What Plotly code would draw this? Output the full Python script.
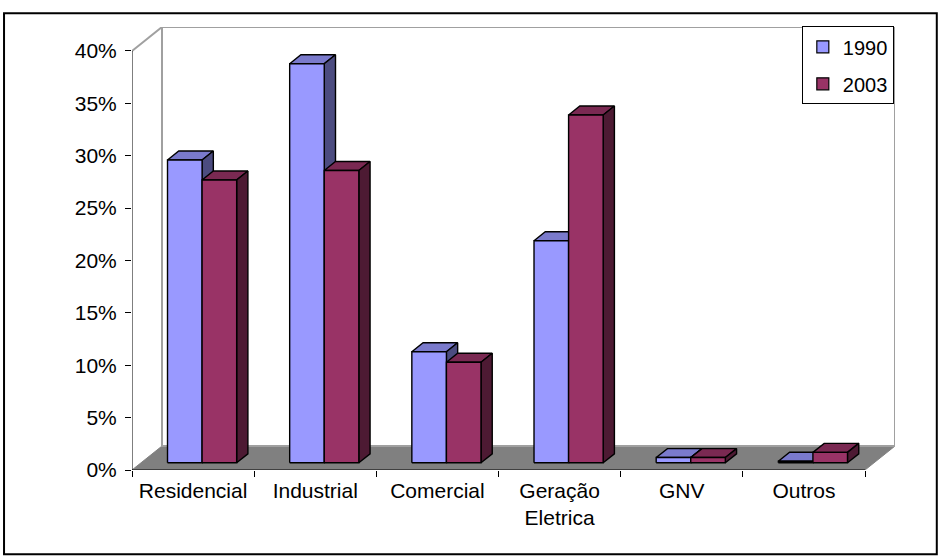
import plotly.graph_objects as go

# Share of natural gas consumption by sector
categories = ["Residencial", "Industrial", "Comercial", "Geração<br>Eletrica", "GNV", "Outros"]
series_names = ["1990", "2003"]
values_1990 = [28.9, 38.1, 10.6, 21.2, 0.5, 0.15]
values_2003 = [27.0, 27.9, 9.6, 33.2, 0.5, 1.0]
y_ticks = [0, 5, 10, 15, 20, 25, 30, 35, 40]
y_tick_labels = [f"{v}%" for v in y_ticks]

# colours: front face, top face, side face
colors_1990 = ("#9999FF", "#7A7ACC", "#4C4C80")
colors_2003 = ("#993366", "#7A2952", "#4D1A33")

W, H = 939, 557
ML, MR, MT, MB = 132, 43.8, 26.7, 86.5

n = len(categories)
Y_MAX = 40
DEPTH_X = 0.2455          # floor depth, in category units
DEPTH_Y = 2.287           # floor depth, in percent units
BAR_W = 0.283             # bar width, in category units
FRONT = 0.30              # bar front plane, fraction of floor depth
BACK = 0.675              # bar back plane, fraction of floor depth

fig = go.Figure()


def face_trace(polys, color):
    xs, ys = [], []
    for poly in polys:
        for (px, py) in poly:
            xs.append(px)
            ys.append(py)
        xs.append(poly[0][0])
        ys.append(poly[0][1])
        xs.append(None)
        ys.append(None)
    return go.Scatter(x=xs, y=ys, mode="lines", fill="toself", fillcolor=color,
                      line=dict(color="black", width=1.4), hoverinfo="skip",
                      showlegend=False)


def add_series(values, offset, colors):
    fx0, fy0 = FRONT * DEPTH_X, FRONT * DEPTH_Y
    bx, by = (BACK - FRONT) * DEPTH_X, (BACK - FRONT) * DEPTH_Y
    tops, sides, fronts = [], [], []
    for i, v in enumerate(values):
        x0 = i + 0.5 + offset * BAR_W - BAR_W + fx0
        x1 = x0 + BAR_W
        y0 = fy0
        y1 = fy0 + v
        fronts.append([(x0, y0), (x1, y0), (x1, y1), (x0, y1)])
        tops.append([(x0, y1), (x1, y1), (x1 + bx, y1 + by), (x0 + bx, y1 + by)])
        sides.append([(x1, y0), (x1 + bx, y0 + by), (x1 + bx, y1 + by), (x1, y1)])
    fig.add_trace(face_trace(tops, colors[1]))
    fig.add_trace(face_trace(sides, colors[2]))
    fig.add_trace(face_trace(fronts, colors[0]))


add_series(values_1990, 0, colors_1990)
add_series(values_2003, 1, colors_2003)

# legend entries
for name, cols, grp in [(series_names[0], colors_1990, "a"), (series_names[1], colors_2003, "b")]:
    fig.add_trace(go.Bar(x=[None], y=[None], name=name, legendgroup=grp,
                         marker=dict(color=cols[0], line=dict(color="black", width=1.2))))

shapes = []
# floor
shapes.append(dict(type="path", xref="x", yref="y", layer="below",
                   path=f"M0,0 L{n},0 L{n + DEPTH_X},{DEPTH_Y} L{DEPTH_X},{DEPTH_Y} Z",
                   fillcolor="#808080", line=dict(color="#808080", width=1)))
# back wall
shapes.append(dict(type="rect", xref="x", yref="y", layer="below",
                   x0=DEPTH_X, x1=n + DEPTH_X, y0=DEPTH_Y, y1=Y_MAX + DEPTH_Y,
                   fillcolor="white", line=dict(color="#A0A0A0", width=2)))
# side wall top edge
shapes.append(dict(type="line", xref="x", yref="y", layer="below",
                   x0=0, y0=Y_MAX, x1=DEPTH_X, y1=Y_MAX + DEPTH_Y,
                   line=dict(color="#A0A0A0", width=2)))
# value axis line
shapes.append(dict(type="line", xref="x", yref="y",
                   x0=0, y0=0, x1=0, y1=Y_MAX, line=dict(color="black", width=1)))
# category axis line
shapes.append(dict(type="line", xref="x", yref="y",
                   x0=0, y0=0, x1=n, y1=0, line=dict(color="black", width=1)))

# chart border
pw = W - ML - MR
ph = H - MT - MB


def px_x(p):
    return (p - ML) / pw


def px_y(p):
    return (H - MB - p) / ph


shapes.append(dict(type="rect", xref="paper", yref="paper",
                   x0=px_x(4), x1=px_x(937), y0=px_y(555), y1=px_y(13),
                   line=dict(color="black", width=2), fillcolor="rgba(0,0,0,0)"))

fig.update_layout(
    width=W, height=H, autosize=False,
    margin=dict(l=ML, r=MR, t=MT, b=MB, pad=0),
    paper_bgcolor="white", plot_bgcolor="white",
    font=dict(family="Liberation Sans, Arial, sans-serif", size=21, color="black"),
    shapes=shapes,
    showlegend=True,
    legend=dict(x=px_x(802), y=px_y(26), xanchor="left", yanchor="top",
                bordercolor="black", borderwidth=1, bgcolor="white",
                traceorder="grouped", tracegroupgap=8,
                font=dict(size=20)),
    xaxis=dict(range=[0, n + DEPTH_X], showgrid=False, zeroline=False, showline=False,
               tickmode="array", tickvals=[i + 0.5 for i in range(n)], ticktext=categories,
               ticks="", automargin=False, ticklabelstandoff=6,
               minor=dict(tickmode="array", tickvals=list(range(n + 1)), ticks="outside",
                          ticklen=6, tickcolor="black", tickwidth=1, showgrid=False)),
    yaxis=dict(range=[0, Y_MAX + DEPTH_Y], showgrid=False, zeroline=False, showline=False,
               tickmode="array", tickvals=y_ticks, ticktext=y_tick_labels,
               ticks="outside", ticklen=6, tickcolor="black", tickwidth=1,
               automargin=False, ticklabelstandoff=4),
)

fig.write_html("out.html")
